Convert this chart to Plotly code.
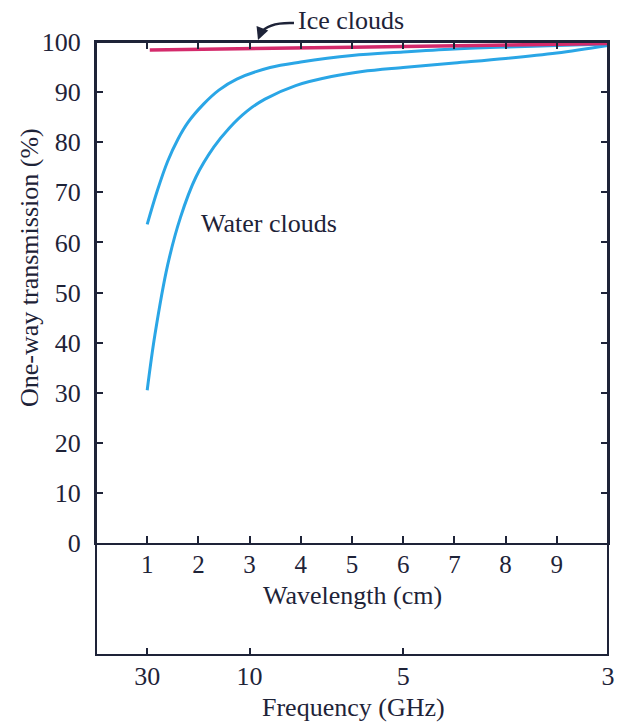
import plotly.graph_objects as go

# ---- data ----
upper_wavelength_cm = [1.0, 1.2, 1.4, 1.6, 1.8, 2.1, 2.4, 2.75, 3.4, 4, 5, 6, 7, 8, 9, 10]
water_upper = [63.6, 70.4, 76.2, 80.6, 84.0, 87.6, 90.4, 92.6, 94.9, 96.0, 97.3, 98.0, 98.6, 99.0, 99.3, 99.6]
lower_wavelength_cm = [1.0, 1.15, 1.4, 1.65, 1.95, 2.3, 2.6, 2.95, 3.3, 3.9, 4.6, 5.2, 6, 7, 8, 9, 10]
water_lower = [30.5, 41.5, 55.5, 65.0, 73.0, 79.0, 82.8, 86.2, 88.6, 91.3, 93.1, 94.1, 94.9, 95.8, 96.7, 97.8, 99.3]
ice_wavelength_cm = [1.05, 2, 3, 4, 5, 6, 7, 8, 9, 10]
ice_clouds = [98.4, 98.5, 98.65, 98.8, 98.95, 99.1, 99.25, 99.4, 99.55, 99.7]
y_ticks = [0, 10, 20, 30, 40, 50, 60, 70, 80, 90, 100]
wavelength_ticks = [1, 2, 3, 4, 5, 6, 7, 8, 9]
freq_ticks_ghz = [30, 10, 5, 3]
freq_tick_positions = [30.0 / f for f in freq_ticks_ghz]  # wavelength (cm) = 30 / f (GHz)

# ---- style ----
W, H = 627, 722
L, R, T, B = 96, 19, 42, 67
AX = "#1e2338"
BLUE = "#2aa6e6"
PINK = "#d42a6b"
FONT = "Liberation Serif"
plot_h = H - T - B
y_dom0 = (655 - 543) / plot_h


def px(xp):
    return (xp - L) / (W - L - R)


def py(yp):
    return (H - B - yp) / plot_h


fig = go.Figure()
fig.add_trace(go.Scatter(x=upper_wavelength_cm, y=water_upper, mode="lines",
                         line=dict(color=BLUE, width=3, shape="spline", smoothing=1.0),
                         hoverinfo="skip"))
fig.add_trace(go.Scatter(x=lower_wavelength_cm, y=water_lower, mode="lines",
                         line=dict(color=BLUE, width=3, shape="spline", smoothing=1.0),
                         hoverinfo="skip"))
fig.add_trace(go.Scatter(x=ice_wavelength_cm, y=ice_clouds, mode="lines",
                         line=dict(color=PINK, width=3.5), hoverinfo="skip"))
fig.add_trace(go.Scatter(x=freq_tick_positions, y=[None] * len(freq_tick_positions),
                         xaxis="x2", mode="lines", hoverinfo="skip"))

tickfont = dict(family=FONT, size=26, color=AX)
xtickfont = dict(family=FONT, size=25, color=AX)

fig.update_layout(
    width=W, height=H,
    margin=dict(l=L, r=R, t=T, b=B, autoexpand=False),
    paper_bgcolor="white", plot_bgcolor="white",
    showlegend=False,
    xaxis=dict(range=[0, 10], tickvals=wavelength_ticks, ticks="inside", ticklen=7,
               tickwidth=2, tickcolor=AX, showline=True, linecolor=AX, linewidth=2,
               mirror="ticks", showgrid=False, zeroline=False, tickfont=xtickfont,
               anchor="y", ticklabelstandoff=-2, automargin=False),
    xaxis2=dict(range=[0, 10], overlaying="x", anchor="free", position=0, side="bottom",
                tickvals=freq_tick_positions, ticktext=[str(f) for f in freq_ticks_ghz],
                ticks="inside", ticklen=7, tickwidth=2, tickcolor=AX, showline=False,
                showgrid=False, zeroline=False, tickfont=tickfont, ticklabelstandoff=3,
                automargin=False),
    yaxis=dict(domain=[y_dom0, 1], range=[0, 100], tickvals=y_ticks, ticks="inside",
               ticklen=7, tickwidth=2, tickcolor=AX, showline=True, linecolor=AX,
               linewidth=2, mirror="ticks", showgrid=False, zeroline=False,
               tickfont=tickfont, ticklabelstandoff=8, automargin=False),
)

fig.add_shape(type="rect", xref="paper", yref="paper", x0=0, x1=1, y0=0, y1=1,
              line=dict(color=AX, width=2), layer="above")

# curved arrow for "Ice clouds"
fig.add_shape(type="path", xref="paper", yref="paper",
              path=f"M {px(294)},{py(23)} Q {px(268)},{py(22)} {px(261)},{py(33)}",
              line=dict(color=AX, width=2.5))

ann = [
    dict(text="Ice clouds", x=px(351), y=py(21)),
    dict(text="Water clouds", x=px(269), y=py(223)),
    dict(text="Wavelength (cm)", x=px(352), y=py(595)),
    dict(text="Frequency (GHz)", x=px(353), y=py(707)),
]
for a in ann:
    fig.add_annotation(xref="paper", yref="paper", showarrow=False,
                       xanchor="center", yanchor="middle",
                       font=dict(family=FONT, size=26, color=AX), **a)

fig.add_annotation(xref="paper", yref="paper", text="One-way transmission (%)",
                   x=px(29), y=py(268), textangle=-90, showarrow=False,
                   xanchor="center", yanchor="middle",
                   font=dict(family=FONT, size=26, color=AX))

fig.add_annotation(xref="paper", yref="paper", x=px(258), y=py(40), text="",
                   showarrow=True, arrowhead=2, arrowsize=1, arrowwidth=2.5,
                   arrowcolor=AX, ax=3, ay=-8)

fig.write_html("out.html", post_script="document.body.style.margin='0';",
               config={"displayModeBar": False})
